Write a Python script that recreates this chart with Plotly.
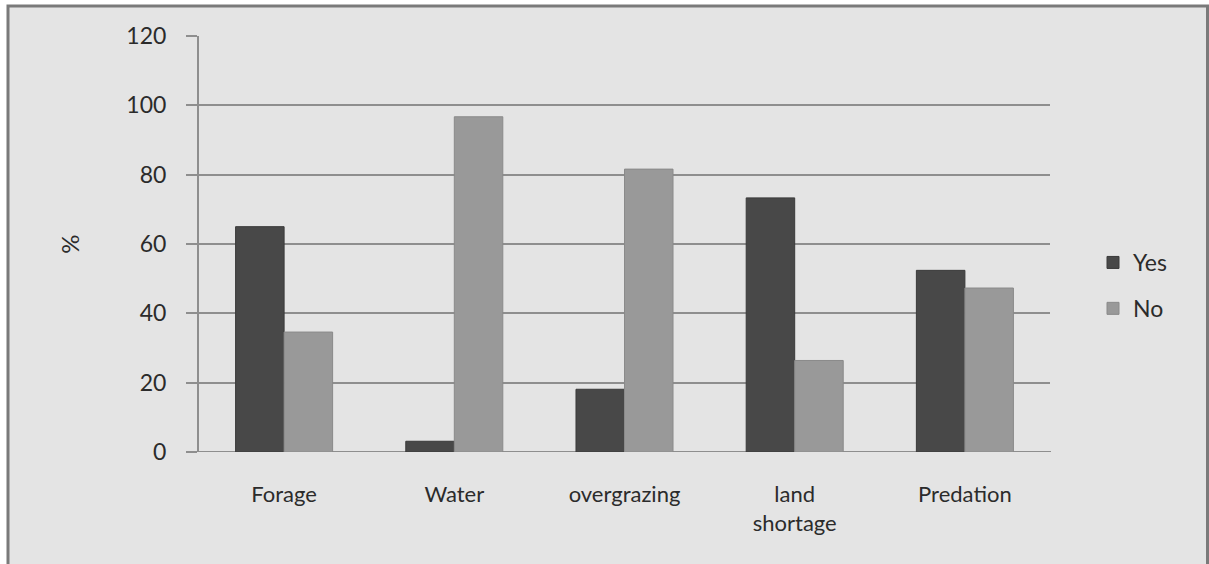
import plotly.graph_objects as go

# Survey results: share of respondents (%) reporting each constraint
categories = ["Forage", "Water", "overgrazing", "land<br>shortage", "Predation"]
yes_pct = [65.0, 3.1, 18.1, 73.3, 52.4]
no_pct = [34.6, 96.7, 81.6, 26.4, 47.3]
y_ticks = [0, 20, 40, 60, 80, 100, 120]

BG = "#e4e4e4"
GRID = "#8e8e8e"
TEXT = "#2b2b2b"
FONT = "Lato, Open Sans, sans-serif"

fig = go.Figure()
fig.add_trace(go.Bar(
    x=categories, y=yes_pct, name="Yes", legendgroup="yes",
    marker=dict(color="#484848", line=dict(color="#3a3a3a", width=1)),
))
fig.add_trace(go.Bar(
    x=categories, y=no_pct, name="No", legendgroup="no",
    marker=dict(color="#999999", line=dict(color="#8a8a8a", width=1)),
))

W, H = 1209, 564
L, R, T, B = 199, 159, 36, 112
pw, ph = W - L - R, H - T - B


def px_to_paper_x(px):
    return (px - L) / pw


def px_to_paper_y(py):
    return (H - B - py) / ph


fig.update_layout(
    width=W, height=H,
    margin=dict(l=L, r=R, t=T, b=B, pad=0),
    paper_bgcolor="white",
    plot_bgcolor=BG,
    barmode="group",
    bargap=0.43,
    bargroupgap=0,
    font=dict(family=FONT, size=21, color=TEXT),
    showlegend=True,
    legend=dict(
        x=px_to_paper_x(1093), y=px_to_paper_y(241), xanchor="left", yanchor="top",
        bgcolor="rgba(0,0,0,0)", font=dict(size=23, color=TEXT),
        traceorder="grouped", tracegroupgap=13,
    ),
    xaxis=dict(
        showgrid=False, showline=False, zeroline=False, ticks="",
        tickfont=dict(size=22, color=TEXT), ticklabelstandoff=27,
    ),
    yaxis=dict(
        range=[0, 120], tickvals=y_ticks, showgrid=True, gridcolor=GRID, gridwidth=2,
        showline=True, linecolor=GRID, linewidth=2,
        ticks="outside", ticklen=11, tickcolor=GRID, tickwidth=2,
        tickfont=dict(size=23, color=TEXT), ticklabelstandoff=15,
        zeroline=False,
        title=dict(text="%", font=dict(size=24, color=TEXT), standoff=40),
    ),
    shapes=[
        # chart frame background and border
        dict(type="rect", xref="paper", yref="paper", layer="below",
             x0=px_to_paper_x(8), x1=px_to_paper_x(1207.5),
             y0=px_to_paper_y(600), y1=px_to_paper_y(6),
             fillcolor=BG, line=dict(color="#7a7a7a", width=3)),
        # gridline extension on the right side of the plot area
        dict(type="line", xref="paper", yref="y", layer="below",
             x0=0, x1=px_to_paper_x(1051), y0=0, y1=0,
             line=dict(color=GRID, width=2)),
    ],
)

fig.write_html("out.html")
